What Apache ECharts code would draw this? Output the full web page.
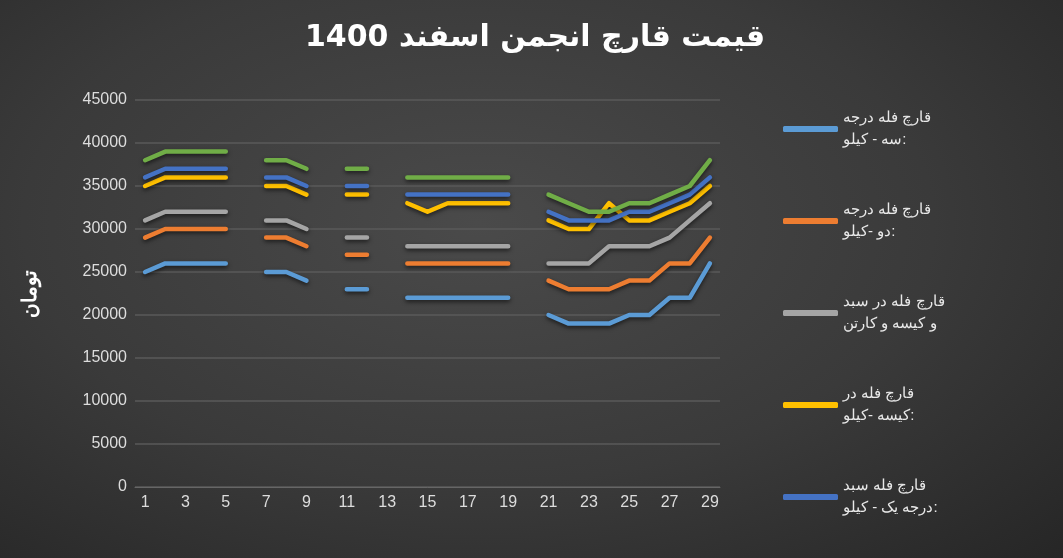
<!DOCTYPE html>
<html><head><meta charset="utf-8">
<script src="https://cdn.jsdelivr.net/npm/echarts@6/dist/echarts.min.js"></script>
<style>html,body{margin:0;padding:0;}#c{width:1063px;height:558px;background:radial-gradient(ellipse at 45% 40%,#4a4a4a 0%,#3a3a3a 55%,#262626 100%);}</style>
</head><body><div id="c"></div>
<script>
var days = [];
for (var d = 1; d <= 29; d++) days.push(String(d));
var names = ['قارچ فله درجه سه - کیلو:','قارچ فله درجه دو -کیلو:','قارچ فله در سبد و کیسه و کارتن','قارچ فله در کیسه -کیلو:','قارچ فله سبد درجه یک - کیلو:','قارچ در سبد لوکس -کیلو:'];
var colors = ['#5b9bd5','#ed7d31','#a5a5a5','#ffc000','#4472c4','#70ad47'];
var n = null;
var s1 = [25000,26000,26000,26000,26000,n,25000,25000,24000,n,23000,23000,n,22000,22000,22000,22000,22000,22000,n,20000,19000,19000,19000,20000,20000,22000,22000,26000];
var s2 = [29000,30000,30000,30000,30000,n,29000,29000,28000,n,27000,27000,n,26000,26000,26000,26000,26000,26000,n,24000,23000,23000,23000,24000,24000,26000,26000,29000];
var s3 = [31000,32000,32000,32000,32000,n,31000,31000,30000,n,29000,29000,n,28000,28000,28000,28000,28000,28000,n,26000,26000,26000,28000,28000,28000,29000,31000,33000];
var s4 = [35000,36000,36000,36000,36000,n,35000,35000,34000,n,34000,34000,n,33000,32000,33000,33000,33000,33000,n,31000,30000,30000,33000,31000,31000,32000,33000,35000];
var s5 = [36000,37000,37000,37000,37000,n,36000,36000,35000,n,35000,35000,n,34000,34000,34000,34000,34000,34000,n,32000,31000,31000,31000,32000,32000,33000,34000,36000];
var s6 = [38000,39000,39000,39000,39000,n,38000,38000,37000,n,37000,37000,n,36000,36000,36000,36000,36000,36000,n,34000,33000,32000,32000,33000,33000,34000,35000,38000];
var data = [s1,s2,s3,s4,s5,s6];
var chart = echarts.init(document.getElementById('c'));
chart.setOption({
  title:{text:'قیمت قارچ انجمن اسفند 1400',left:530,top:18,textAlign:'center',textStyle:{color:'#fff',fontSize:30,fontWeight:'bold',fontFamily:'DejaVu Sans'}},
  grid:{left:135,right:343,top:100,bottom:71},
  legend:{orient:'vertical',left:778,top:102,itemWidth:55,itemHeight:6,itemGap:48,icon:'roundRect',
    textStyle:{color:'#e8e8e8',fontSize:15,width:200,overflow:'break',lineHeight:22,fontFamily:'Liberation Sans'},data:names},
  xAxis:{type:'category',data:days,boundaryGap:true,axisLine:{lineStyle:{color:'#666'}},axisTick:{show:false},
    axisLabel:{color:'#ddd',fontSize:16,interval:1,fontFamily:'Liberation Sans'}},
  yAxis:{type:'value',min:0,max:45000,interval:5000,name:'تومان',nameLocation:'middle',nameGap:95,nameRotate:90,
    nameTextStyle:{color:'#fff',fontSize:20,fontWeight:'bold'},
    axisLabel:{color:'#ddd',fontSize:16,fontFamily:'Liberation Sans',formatter:function(v){return String(v);}},splitLine:{lineStyle:{color:'#5a5a5a',width:1.5}},axisLine:{show:false}},
  series:data.map(function(v,i){return {name:names[i],type:'line',data:v,connectNulls:false,showSymbol:false,symbol:'none',
    lineStyle:{width:4.5,color:colors[i],cap:'round',join:'round',shadowColor:'rgba(0,0,0,0.6)',shadowBlur:4,shadowOffsetY:2},itemStyle:{color:colors[i]}};})
});
</script></body></html>
